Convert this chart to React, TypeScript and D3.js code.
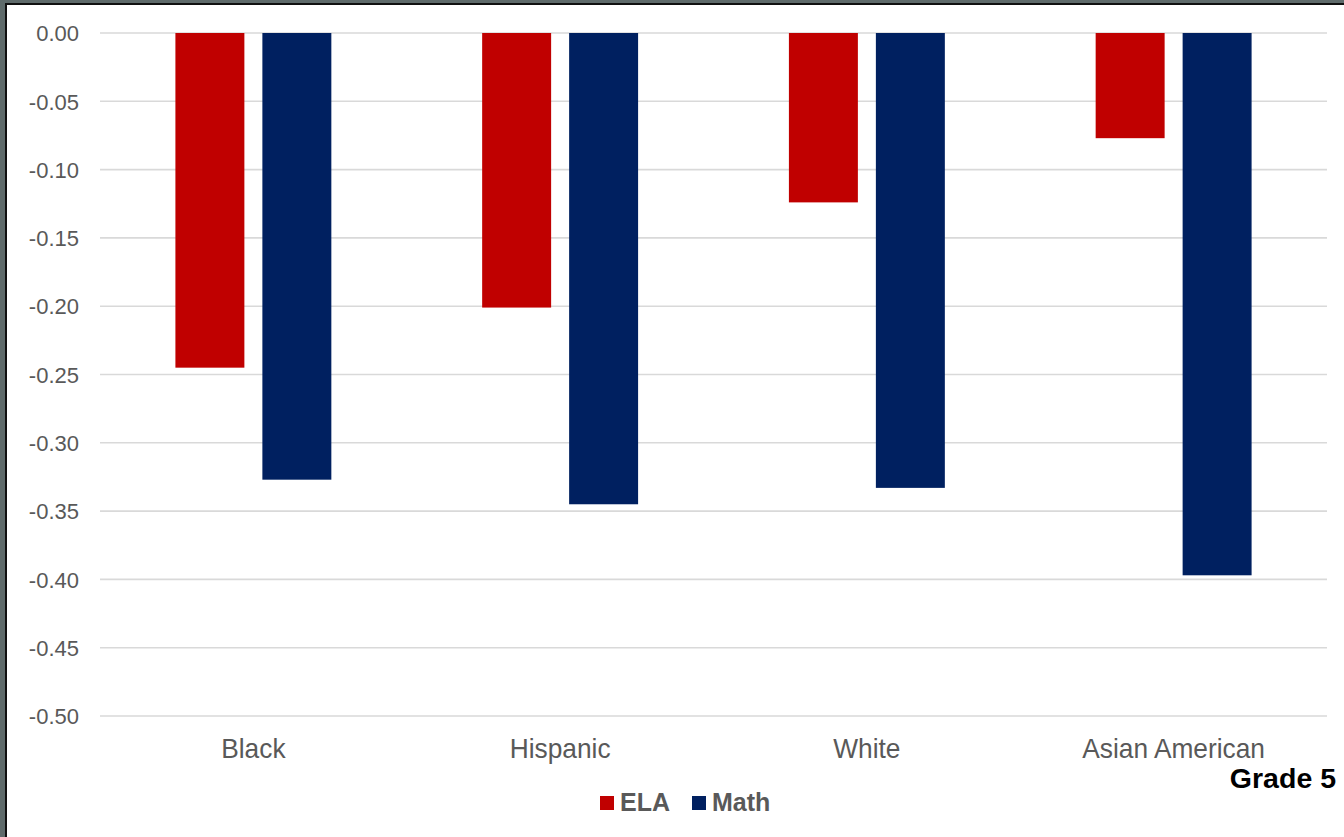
import React from "react";
import * as d3 from "d3";

// Learning-loss effect sizes by student group, Grade 5
const groups = ["Black", "Hispanic", "White", "Asian American"];
const subjects = ["ELA", "Math"];
const elaValues = [-0.245, -0.201, -0.124, -0.077];
const mathValues = [-0.327, -0.345, -0.333, -0.397];
const yTicks = [0, -0.05, -0.1, -0.15, -0.2, -0.25, -0.3, -0.35, -0.4, -0.45, -0.5];
const subjectColors = ["#c00000", "#002060"];
const gradeLabel = "Grade 5";

const W = 1344;
const H = 837;
const plot = { left: 100, right: 1327, top: 33, bottom: 716 };

const fmt = d3.formatLocale({
  decimal: ".",
  thousands: ",",
  grouping: [3],
  currency: ["$", ""],
  minus: "-",
}).format(".2f");

export default function App() {
  const y = d3.scaleLinear().domain([-0.5, 0]).range([plot.bottom, plot.top]);
  const x0 = d3.scaleBand<string>().domain(groups).range([plot.left, plot.right]).padding(0);
  const x1 = d3
    .scaleBand<string>()
    .domain(subjects)
    .range([0, x0.bandwidth()])
    .paddingInner(0.207)
    .paddingOuter(0.867);

  const series = [elaValues, mathValues];
  const font = "'Liberation Sans', Arial, sans-serif";

  return (
    <svg
      width={W}
      height={H}
      style={{ position: "absolute", left: 0, top: 0, background: "#fff" }}
      fontFamily={font}
    >
      {/* frame */}
      <rect x={0} y={0} width={W} height={3} fill="#5f6b6b" />
      <rect x={0} y={0} width={5} height={H} fill="#5f6b6b" />
      <rect x={5} y={3} width={W - 5} height={2} fill="#111" />
      <rect x={5} y={3} width={2} height={H - 3} fill="#111" />

      {/* gridlines */}
      {yTicks.map((t) => (
        <line
          key={t}
          x1={plot.left}
          x2={plot.right}
          y1={y(t)}
          y2={y(t)}
          stroke="#d9d9d9"
          strokeWidth={1.6}
        />
      ))}

      {/* y tick labels */}
      {yTicks.map((t) => (
        <g key={t} transform={`translate(79,${y(t)}) scale(1,1.04)`}>
          <text textAnchor="end" dy="0.36em" fontSize={22} fill="#595959">
            {fmt(t)}
          </text>
        </g>
      ))}

      {/* bars */}
      {groups.map((g, i) => (
        <g key={g} transform={`translate(${x0(g)},0)`}>
          {subjects.map((s, j) => {
            const v = series[j][i];
            return (
              <rect
                key={s}
                x={x1(s)}
                y={y(0)}
                width={x1.bandwidth()}
                height={y(v) - y(0)}
                fill={subjectColors[j]}
              />
            );
          })}
        </g>
      ))}

      {/* category labels */}
      {groups.map((g) => (
        <g key={g} transform={`translate(${(x0(g) ?? 0) + x0.bandwidth() / 2},757.5) scale(1,1.06)`}>
          <text textAnchor="middle" fontSize={26.3} fill="#595959">
            {g}
          </text>
        </g>
      ))}

      {/* legend */}
      {subjects.map((s, j) => {
        const lx = j === 0 ? 600 : 692;
        return (
          <g key={s} transform={`translate(${lx},796)`}>
            <rect x={0} y={0} width={14} height={14} fill={subjectColors[j]} />
            <text x={20} y={15} fontSize={25} fontWeight="bold" fill="#595959">
              {s}
            </text>
          </g>
        );
      })}

      <text x={1336} y={788} textAnchor="end" fontSize={28.5} fontWeight="bold" fill="#000">
        {gradeLabel}
      </text>
    </svg>
  );
}
